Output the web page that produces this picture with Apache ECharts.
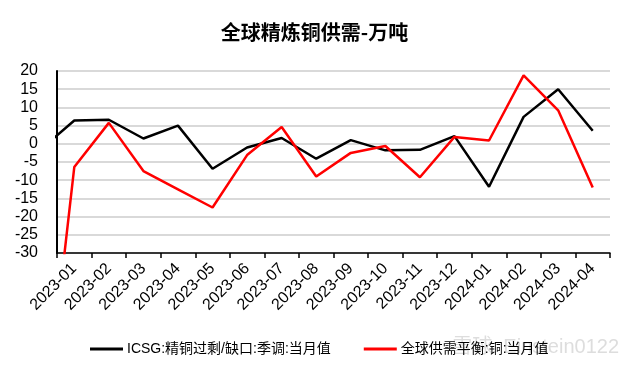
<!DOCTYPE html>
<html>
<head>
<meta charset="utf-8">
<script src="https://cdn.jsdelivr.net/npm/echarts@6/dist/echarts.min.js"></script>
<style>
html,body{margin:0;padding:0;background:#fff;}
#main{width:629px;height:371px;}
</style>
</head>
<body>
<div id="main"></div>
<script>
// Categories (months)
const categories = ['2023-01','2023-02','2023-03','2023-04','2023-05','2023-06','2023-07','2023-08','2023-09','2023-10','2023-11','2023-12','2024-01','2024-02','2024-03','2024-04'];
// ICSG:精铜过剩/缺口:季调:当月值
const icsgValues = [6.4, 6.6, 1.45, 5.0, -6.85, -1.0, 1.6, -4.1, 1.0, -1.8, -1.65, 2.1, -11.8, 7.4, 15.0, 3.6];
// 全球供需平衡:铜:当月值
const globalValues = [-6.4, 5.75, -7.5, -12.5, -17.5, -3.1, 4.6, -9.0, -2.5, -0.6, -9.2, 1.9, 0.9, 18.8, 9.2, -12.0];
// Values of the month before the first category (2022-12), only visible as clipped line segments
const icsgPrior = -1.8;
const globalPrior = -90;
// Y axis ticks
const yMin = -30, yMax = 20, yStep = 5;
const seriesNames = ['ICSG:精铜过剩/缺口:季调:当月值', '全球供需平衡:铜:当月值'];

function toPoints(prior, values) {
  const pts = [[-1, prior]];
  values.forEach((v, i) => pts.push([i, v]));
  return pts;
}

const latin = '"Liberation Sans", Arial, "Noto Sans CJK SC", sans-serif';
const chart = echarts.init(document.getElementById('main'), null, {renderer: 'canvas'});
chart.setOption({
  animation: false,
  backgroundColor: '#ffffff',
  title: {
    text: '全球精炼铜供需-万吨',
    left: 'center',
    top: 17,
    textStyle: {fontSize: 20, fontWeight: 'bold', color: '#000', fontFamily: '"Noto Sans CJK SC", sans-serif'}
  },
  legend: {
    left: 85,
    top: 337,
    itemWidth: 33,
    itemHeight: 3,
    itemGap: 33,
    icon: 'rect',
    textStyle: {fontSize: 14, color: '#000', fontFamily: latin, padding: [0, 0, 0, -1]},
    data: seriesNames
  },
  graphic: [{
    type: 'text',
    right: 10,
    top: 337,
    silent: true,
    style: {text: '雪球: Einstein0122', fill: 'rgba(170,170,170,0.4)', fontSize: 20, fontFamily: latin}
  }],
  grid: {left: 57, right: 19, top: 71, bottom: 118, containLabel: false},
  xAxis: [{
    type: 'category',
    data: categories,
    boundaryGap: true,
    position: 'bottom',
    axisLine: {show: false},
    axisTick: {show: false},
    splitLine: {show: false},
    axisLabel: {
      rotate: 45,
      interval: 0,
      margin: 13,
      fontSize: 16,
      color: '#000',
      fontFamily: latin
    }
  }, {
    type: 'value',
    min: -0.5,
    max: categories.length - 0.5,
    interval: 1,
    position: 'bottom',
    axisLine: {show: true, onZero: true, lineStyle: {color: '#000', width: 1.5}},
    axisTick: {show: true, length: 5, lineStyle: {color: '#000', width: 1.5}},
    axisLabel: {show: false},
    splitLine: {show: false}
  }],
  yAxis: {
    type: 'value',
    min: yMin,
    max: yMax,
    interval: yStep,
    axisLine: {show: true, onZero: false, lineStyle: {color: '#000', width: 2}},
    axisTick: {show: false},
    axisLabel: {margin: 19, fontSize: 16, color: '#000', fontFamily: latin},
    splitLine: {show: true, lineStyle: {color: '#d9d9d9', width: 2}}
  },
  series: [{
    name: seriesNames[0],
    type: 'line',
    xAxisIndex: 1,
    data: toPoints(icsgPrior, icsgValues),
    showSymbol: false,
    clip: true,
    color: '#000000',
    lineStyle: {color: '#000000', width: 2.5}
  }, {
    name: seriesNames[1],
    type: 'line',
    xAxisIndex: 1,
    data: toPoints(globalPrior, globalValues),
    showSymbol: false,
    clip: true,
    color: '#ff0000',
    lineStyle: {color: '#ff0000', width: 2.5}
  }]
});
</script>
</body>
</html>
